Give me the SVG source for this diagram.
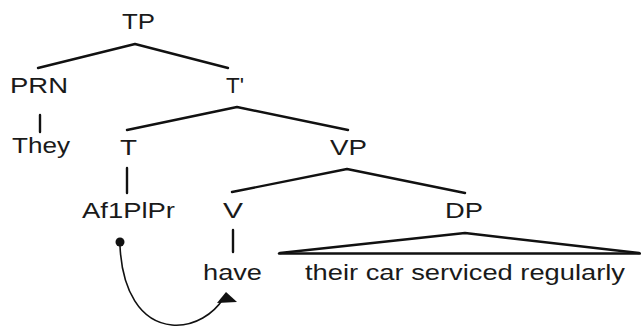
<svg xmlns="http://www.w3.org/2000/svg" width="641" height="326" viewBox="0 0 641 326">
<style>
text{font-family:"Liberation Sans",Arial,sans-serif;font-size:22px;fill:#1a1a1a}
.e{stroke:#111;stroke-width:2.4;fill:none;stroke-linecap:round}
</style>
<rect width="641" height="326" fill="#fff"/>
<g id="connectors">
<path class="e" d="M135,44 L38,68 M135,44 L228,68"/>
<path class="e" d="M40,115 L40,132"/>
<path class="e" d="M237,107 L127,130 M237,107 L348,130"/>
<path class="e" d="M127,168 L127,193"/>
<path class="e" d="M347,169 L232,192 M347,169 L465,193"/>
<path class="e" d="M233,230 L233,252"/>
<path class="e" d="M465,233 L280,253 M465,233 L639,253"/>
<path class="e" d="M279,253.5 L640,253.5" stroke-width="3"/>
<path d="M120,246 C122,290 140,322 172,325 C195,327 214,313 223,299" fill="none" stroke="#111" stroke-width="1.6"/>
<circle cx="120" cy="242" r="4.5" fill="#111"/>
<polygon points="226,292 217,303 237,302" fill="#111"/>
</g>
<g id="TP"><text x="122" y="29" textLength="33" lengthAdjust="spacingAndGlyphs">TP</text></g>
<g id="PRN"><text x="10" y="93" textLength="58" lengthAdjust="spacingAndGlyphs">PRN</text></g>
<g id="Tbar"><text x="226" y="93" textLength="18" lengthAdjust="spacingAndGlyphs">T'</text></g>
<g id="They"><text x="12" y="153" textLength="58" lengthAdjust="spacingAndGlyphs">They</text></g>
<g id="T"><text x="120" y="155" textLength="17" lengthAdjust="spacingAndGlyphs">T</text></g>
<g id="VP"><text x="330" y="155" textLength="37" lengthAdjust="spacingAndGlyphs">VP</text></g>
<g id="Af1PlPr"><text x="82" y="218" textLength="93" lengthAdjust="spacingAndGlyphs">Af1PlPr</text></g>
<g id="V"><text x="223" y="218" textLength="20" lengthAdjust="spacingAndGlyphs">V</text></g>
<g id="DP"><text x="445" y="218" textLength="38" lengthAdjust="spacingAndGlyphs">DP</text></g>
<g id="have"><text x="203" y="280" textLength="59" lengthAdjust="spacingAndGlyphs">have</text></g>
<g id="DPtext"><text x="305" y="280" textLength="320" lengthAdjust="spacingAndGlyphs">their car serviced regularly</text></g>
</svg>
